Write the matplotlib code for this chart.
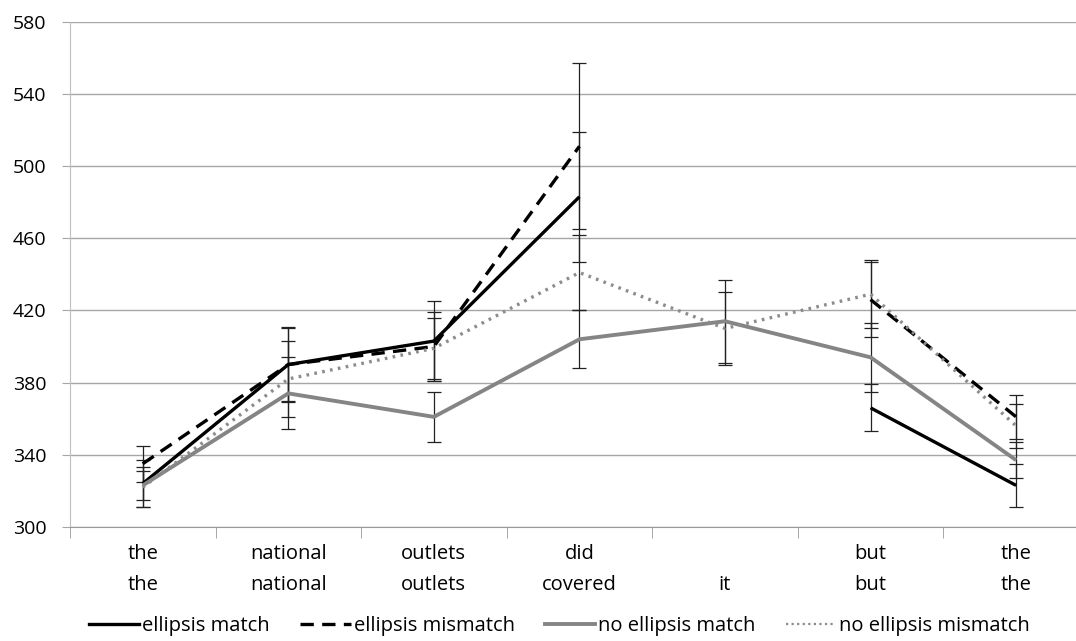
import matplotlib.pyplot as plt
import numpy as np
from matplotlib.lines import Line2D

plt.rcParams["font.family"] = ["Open Sans", "DejaVu Sans"]

# categories (two-line labels)
top_words = ["the", "national", "outlets", "did", "", "but", "the"]
bottom_words = ["the", "national", "outlets", "covered", "it", "but", "the"]

# reading times (ms) per region
ellipsis_match = [324, 390, 403, 483, np.nan, 366, 323]
ellipsis_mismatch = [335, 390, 400, 511, np.nan, 426, 361]
no_ellipsis_match = [323, 374, 361, 404, 414, 394, 337]
no_ellipsis_mismatch = [322, 382, 399, 441, 410, 429, 356]

# error bar half-widths
err_match = [13, 20, 22, 36, np.nan, 13, 12]
err_mismatch = [10, 21, 19, 46, np.nan, 21, 12]
err_no_match = [8, 20, 14, 16, 23, 19, 10]
err_no_mismatch = [11, 21, 17, 21, 20, 19, 12]

series = [
    ("ellipsis match", ellipsis_match, err_match, dict(color="black", lw=2.4, ls="-")),
    ("ellipsis mismatch", ellipsis_mismatch, err_mismatch, dict(color="black", lw=2.4, ls=(0, (4, 2.5)))),
    ("no ellipsis match", no_ellipsis_match, err_no_match, dict(color="#858585", lw=2.8, ls="-")),
    ("no ellipsis mismatch", no_ellipsis_mismatch, err_no_mismatch, dict(color="#8c8c8c", lw=2.4, ls=(0, (0.8, 1.6)))),
]

fig = plt.figure(figsize=(10.76, 6.41), dpi=100)
ax = fig.add_axes([0.065, 0.178, 0.947, 0.788])

x = np.arange(len(top_words))
for name, vals, errs, style in series:
    vals = np.array(vals, dtype=float)
    errs = np.array(errs, dtype=float)
    ok = ~np.isnan(vals)
    ax.errorbar(x[ok], vals[ok], yerr=errs[ok], fmt="none", ecolor="#222222",
                elinewidth=0.9, capsize=5, capthick=0.9, zorder=2)
    ax.plot(x, vals, label=name, zorder=3, solid_capstyle="butt", **style)

ax.set_xlim(-0.5, len(x) - 0.5)
ax.set_ylim(300, 580)
ax.set_yticks(np.arange(300, 581, 40))
ax.yaxis.grid(True, color="#a6a6a6", lw=1)
ax.set_axisbelow(True)

ax.set_xticks(x)
ax.set_xticklabels([f"{a}\n{b}" for a, b in zip(top_words, bottom_words)],
                   fontsize=14.5, linespacing=1.75)
ax.set_xticks(np.arange(-0.5, len(x), 1), minor=True)
ax.tick_params(axis="x", which="major", length=0, pad=12)
ax.tick_params(axis="x", which="minor", length=8, color="#999999")
ax.tick_params(axis="y", length=6, color="#a6a6a6", labelsize=14, pad=11)

for side in ["top", "right"]:
    ax.spines[side].set_visible(False)
ax.spines["left"].set_color("#bfbfbf")
ax.spines["bottom"].set_color("#999999")

handles = [Line2D([], [], **s[3]) for s in series]
handles[3] = Line2D([], [], color="#8c8c8c", lw=1.6, ls=(0, (1, 1.5)))
fig.legend(handles, [s[0] for s in series], loc="center",
           bbox_to_anchor=(0.52, 0.024), ncol=4, frameon=False, fontsize=14.5,
           handlelength=2.5, handletextpad=0.15, columnspacing=1.5)

fig.savefig("out.png", dpi=100)
